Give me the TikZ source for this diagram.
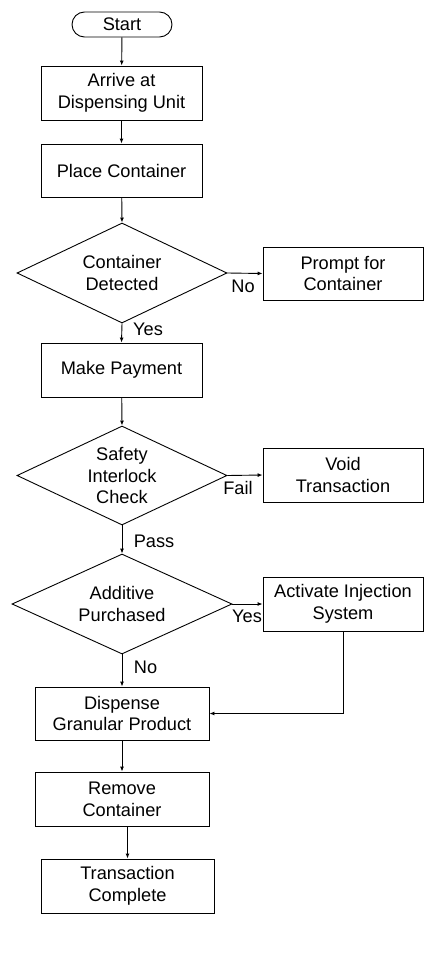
\documentclass[tikz,border=0pt]{standalone}
\usepackage{fontspec}
\setmainfont{Liberation Sans}
\usetikzlibrary{shapes.geometric,arrows.meta}
\begin{document}
\begin{tikzpicture}[x=1pt,y=-1pt,
  every node/.style={font=\fontsize{18.2}{21.7}\selectfont},
  proc/.style={draw,line width=0.9pt,rectangle,inner sep=0pt,align=center},
  term/.style={draw,line width=0.9pt,rectangle,rounded corners=12.5pt,minimum width=100pt,minimum height=25pt,inner sep=0pt},
  dec/.style={draw,line width=0.9pt,diamond,inner sep=0pt},
  txt/.style={inner sep=0pt,align=center},
  conn/.style={line width=0.9pt,-{Latex[length=5pt,width=4pt]}}]
\useasboundingbox (0,0) rectangle (444,963);
\node[term] (start) at (122,24.5) {Start};
\node[proc,minimum width=161pt,minimum height=54pt] (arrive) at (121.5,93) {Arrive at\\Dispensing Unit};
\node[proc,minimum width=161pt,minimum height=53pt] (place) at (121.5,170.5) {Place Container};
\node[dec,minimum width=210pt,minimum height=100pt] (d1) at (122,273) {};
\node[txt] (d1t) at (d1) {Container\\Detected};
\node[proc,minimum width=160pt,minimum height=53pt] (prompt) at (343,273.5) {Prompt for\\Container};
\node[proc,minimum width=161pt,minimum height=54pt] (pay) at (121.5,370) {Make Payment};
\node[dec,minimum width=210pt,minimum height=99pt] (d2) at (122,475.5) {};
\node[txt] (d2t) at (d2) {Safety\\Interlock\\Check};
\node[proc,minimum width=160pt,minimum height=54pt] (void) at (343,475) {Void\\Transaction};
\node[dec,minimum width=220pt,minimum height=100pt] (d3) at (122,604) {};
\node[txt] (d3t) at (d3) {Additive\\Purchased};
\node[proc,minimum width=160pt,minimum height=54pt] (act) at (343,604) {Activate Injection\\System};
\node[proc,minimum width=174pt,minimum height=53pt] (disp) at (122,713.5) {Dispense\\Granular Product};
\node[proc,minimum width=174pt,minimum height=54pt] (remove) at (122,799) {Remove\\Container};
\node[proc,minimum width=173pt,minimum height=54pt] (trans) at (127.5,886) {Transaction\\Complete};

\draw[conn] (start) -- (arrive);
\draw[conn] (arrive) -- (place);
\draw[conn] (place) -- (d1.north);
\draw[conn] (d1.east) -- (prompt.west);
\draw[conn] (d1.south) -- (pay.north);
\draw[conn] (pay) -- (d2.north);
\draw[conn] (d2.east) -- (void.west);
\draw[conn] (d2.south) -- (d3.north);
\draw[conn] (d3.east) -- (act.west);
\draw[conn] (d3.south) -- (disp.north);
\draw[conn] (act.south) |- (disp.east);
\draw[conn] (disp) -- (remove);
\draw[conn] (remove.south -| trans.north) -- (trans.north);

\node[txt] (lno1) at (243,286) {No};
\node[txt] (lyes1) at (148,329) {Yes};
\node[txt] (lfail) at (238,488) {Fail};
\node[txt] (lpass) at (154,541) {Pass};
\node[txt] (lyes2) at (247,616) {Yes};
\node[txt] (lno2) at (145.5,667) {No};
\end{tikzpicture}
\end{document}
